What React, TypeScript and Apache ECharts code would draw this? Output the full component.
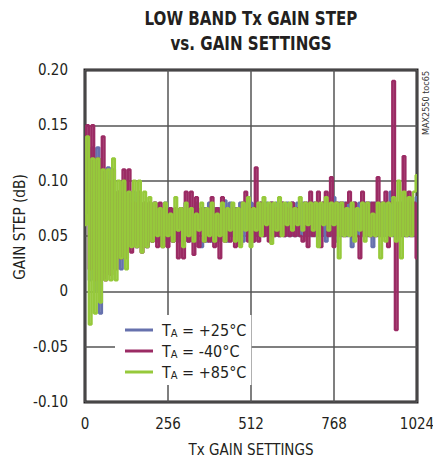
import React, { useEffect, useRef } from "react";
import * as echarts from "echarts";

// Gain settings are sampled every 8 codes (0 ... 1024)
const GAIN_STEP_CODES = 8;
const xTickLabels = ["0", "256", "512", "768", "1024"];
const seriesNames = ["TA = +25°C", "TA = -40°C", "TA = +85°C"];

// gain step values in hundredths of a dB
const t25 = [
  7, 12, 1, 13, 0, 13, -2, 11, 1.7, 11.2, 2, 10, 3, 9, 2, 10, 4, 9, 4, 9,
  4, 8.5, 4, 8, 4, 8, 4.5, 8, 4.5, 7.5, 4.5, 8, 4.5, 7.5, 4.5, 7.5, 4.5, 7.5, 4.5, 8,
  4.5, 7.5, 4.5, 8, 4.5, 4, 7.5, 4.5, 8, 4.5, 7.5, 4.5, 7.5, 5, 8.2, 4.5, 8, 5, 7.5, 4.5,
  8, 4.5, 8, 5, 8, 4.5, 8, 5, 8, 5, 8, 5, 8, 5, 8, 5, 8, 5, 8, 5,
  8, 5, 8, 5, 8, 5, 8, 5, 8, 5, 8, 5, 8, 4.5, 8, 5, 8.5, 4.5, 8, 5,
  8, 5, 8, 4, 8, 5, 8, 5, 8, 5, 8, 4, 8, 5, 8, 5, 8, 5, 9, 5,
  8, 5, 8, 5, 8, 5, 8, 5, 8.5,
];
const tm40 = [
  9, 15, 2, 15, 1, 12, 1, 14, 1, 10, 1.5, 11, 2, 9, 3, 11, 3, 11, 3.5, 8,
  4, 9, 3.5, 8, 4, 8, 4.5, 8, 4, 8, 4, 7.5, 4, 7.5, 4.5, 7.5, 3, 7.5, 3, 9,
  4.5, 9, 3.3, 8.5, 4, 7.5, 4.5, 7.5, 4.5, 8.5, 4, 7.5, 3, 8.5, 4.5, 7.5, 4.5, 7.5, 4, 7.5,
  4.2, 8, 9, 4.5, 7.5, 4.5, 11.2, 4.5, 8, 5, 7.5, 4.5, 8, 5, 7.5, 5, 8, 5, 7.5, 5,
  8, 5, 7.5, 5, 4.5, 8, 4, 9, 5, 8, 9, 4, 8, 9, 5, 10.3, 4, 8, 5, 8,
  5, 8, 9, 5, 8, 5, 3, 9, 5, 8, 5, 8, 5, 10.3, 5, 8, 9, 4, 8, 19,
  -3.5, 8, 5, 12.2, 5, 9, 5, 8, 3,
];
const t85 = [
  6, 14, -3, 12, -2, 12, -1, 11, 1, 11, 1, 12, 1, 10, 3, 10, 2, 9, 4, 10,
  4, 10, 3.5, 9, 4, 8.5,
  4.5, 8, 5, 7.5, 4, 8, 5, 7, 4.5, 8.5, 5.5, 7.5, 4, 8, 5, 7.5, 4.5, 7, 5.5, 8,
  4.5, 7.5, 5, 8, 4.5, 7, 5, 8, 4.5, 7.5, 5.5, 8, 4.5, 7.5,
  4, 8, 5.5, 8.5, 4, 7.5, 5.5, 8, 5, 8.5, 6, 8, 4.3, 8, 5.5, 8.5, 5, 8, 6, 8,
  5.5, 7.5, 6, 8.5, 5.5, 8, 6, 8, 5.5, 8, 4, 8, 6, 8.5, 5.5, 8, 6,
  8, 3, 8, 5, 7.5, 5, 8, 4.5, 7.5, 5.5, 8, 4.5, 8, 5, 7, 5, 8, 3, 8, 4.5,
  8, 5, 8.5, 4.5, 10, 3, 9, 5, 8.5, 5, 9, 10.5,
];

const colors = ["#6671ad", "#9b2b64", "#96c93b"];
const FONT = '"Liberation Sans Narrow", "DejaVu Sans Condensed", sans-serif';
const TEXT = "#231f20";

function toPoints(vals: number[]) {
  return vals.map((v, i) => [i * GAIN_STEP_CODES, v / 100]);
}

export default function App() {
  const ref = useRef<HTMLDivElement>(null);
  useEffect(() => {
    if (!ref.current) return;
    const chart = echarts.init(ref.current, undefined, { renderer: "svg" });
    const data = [t25, tm40, t85];
    chart.setOption({
      animation: false,
      backgroundColor: "#fff",
      color: colors,
      grid: {
        left: 85,
        right: 16,
        top: 70,
        bottom: 61,
        show: true,
        borderColor: TEXT,
        borderWidth: 3,
        outerBoundsMode: "none",
        containLabel: false,
      },
      xAxis: {
        type: "value",
        min: 0,
        max: 1024,
        interval: 256,
        name: "Tx GAIN SETTINGS",
        nameLocation: "middle",
        nameGap: 40,
        nameTextStyle: { fontFamily: FONT, fontSize: 15, color: TEXT },
        axisLine: { show: false },
        axisTick: { show: false },
        axisLabel: {
          margin: 14,
          fontFamily: FONT,
          fontSize: 15,
          color: TEXT,
          formatter: (v: number) => xTickLabels[Math.round(v / 256)] ?? String(v),
        },
        splitLine: { lineStyle: { color: "#555", width: 1.5 } },
      },
      yAxis: {
        type: "value",
        min: -0.1,
        max: 0.2,
        interval: 0.05,
        axisLine: { show: false },
        axisTick: { show: false },
        axisLabel: {
          margin: 17,
          fontFamily: FONT,
          fontSize: 15,
          color: TEXT,
          formatter: (v: number) => (Math.abs(v) < 1e-9 ? "0" : v.toFixed(2)),
        },
        splitLine: { lineStyle: { color: "#555", width: 1.5 } },
      },
      legend: {
        orient: "vertical",
        left: 115,
        top: 315,
        data: seriesNames,
        icon: "rect",
        itemWidth: 28,
        itemHeight: 3,
        itemGap: 4,
        backgroundColor: "#fff",
        padding: [7, 5, 4, 10],
        formatter: (name: string) => `{t|T}{s|A}{u|${name.slice(2)}}`,
        textStyle: {
          fontFamily: FONT,
          color: TEXT,
          rich: {
            t: { fontFamily: FONT, fontSize: 16, color: TEXT, padding: [0, 0, 0, 4] },
            s: { fontFamily: FONT, fontSize: 11, color: TEXT, padding: [7, 0, 0, 0] },
            u: { fontFamily: FONT, fontSize: 16, color: TEXT },
          },
        },
      },
      graphic: [
        {
          type: "text",
          x: 251,
          y: 5,
          scaleX: 0.84,
          style: {
            text: "LOW BAND Tx GAIN STEP\nvs. GAIN SETTINGS",
            align: "center",
            fontFamily: FONT,
            fontWeight: "bold",
            fontSize: 20,
            lineHeight: 25,
            fill: TEXT,
          },
        },
        {
          type: "text",
          x: 20,
          y: 227,
          rotation: Math.PI / 2,
          scaleX: 0.95,
          style: {
            text: "GAIN STEP (dB)",
            align: "center",
            verticalAlign: "middle",
            fontFamily: FONT,
            fontSize: 16,
            fill: TEXT,
          },
        },
        {
          type: "text",
          x: 426,
          y: 103,
          rotation: Math.PI / 2,
          style: {
            text: "MAX2550 toc65",
            align: "center",
            verticalAlign: "middle",
            fontFamily: FONT,
            fontSize: 9,
            fill: "#333",
          },
        },
      ],
      series: seriesNames.map((name, k) => ({
        name,
        type: "line",
        step: "middle",
        showSymbol: false,
        symbol: "none",
        data: toPoints(data[k]),
        lineStyle: { width: 2.5, color: colors[k] },
      })),
    });
    return () => chart.dispose();
  }, []);
  return <div ref={ref} style={{ width: 433, height: 463, position: "absolute", left: 0, top: 0 }} />;
}
